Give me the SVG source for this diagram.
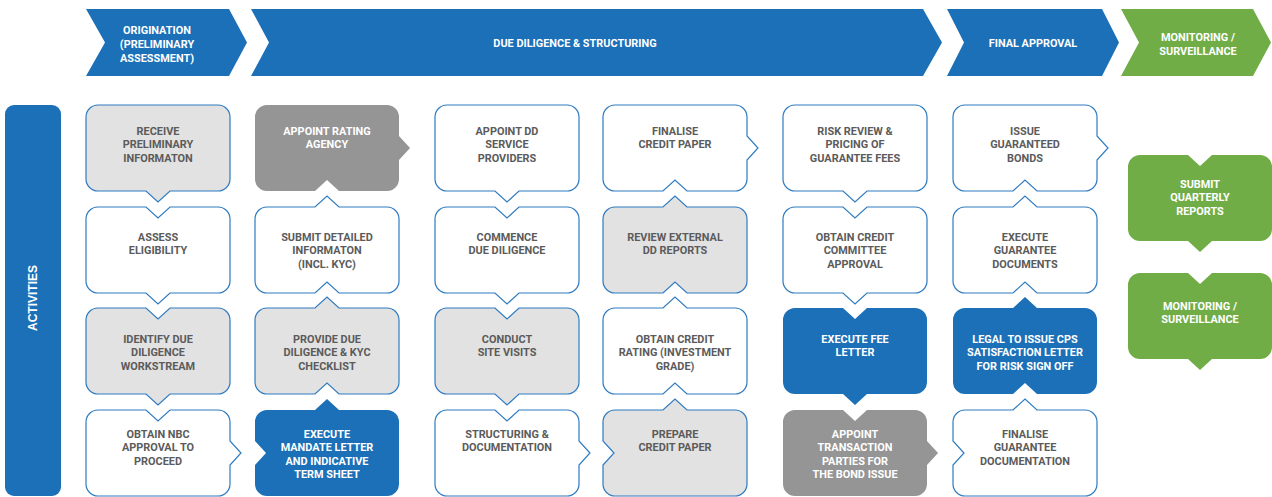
<svg xmlns="http://www.w3.org/2000/svg" width="1272" height="497" viewBox="0 0 1272 497">
<style>
.w{fill:#ffffff;stroke:#2e7bc0;stroke-width:1.2}
.l{fill:#e2e2e2;stroke:#2e7bc0;stroke-width:1.2}
.d{fill:#959595}
.b{fill:#1b70b8}
.g{fill:#71ad47}
text{font-family:Roboto,"Liberation Sans",sans-serif;font-weight:700;font-size:10.9px;text-anchor:middle}
.t{fill:#5b5b5b}
.tw{fill:#ffffff}
.act{font-family:"Liberation Sans",Arial,sans-serif;font-size:12px;fill:#ffffff}
</style>
<rect width="1272" height="497" fill="#ffffff"/>
<g id="headers">
<g id="h1"><polygon class="b" points="86,9 229,9 247,42.5 229,76 86,76 105,42.5"/><text class="tw" x="157" y="33.5">ORIGINATION</text><text class="tw" x="157" y="47.5">(PRELIMINARY</text><text class="tw" x="157" y="61.5">ASSESSMENT)</text></g>
<g id="h2"><polygon class="b" points="251,9 923,9 942,42.5 923,76 251,76 269,42.5"/><text class="tw" x="575" y="46.5">DUE DILIGENCE &amp; STRUCTURING</text></g>
<g id="h3"><polygon class="b" points="947,9 1102,9 1119,42.5 1102,76 947,76 964,42.5"/><text class="tw" x="1033" y="46.5">FINAL APPROVAL</text></g>
<g id="h4"><polygon class="g" points="1121,9 1253,9 1271,42.5 1253,76 1121,76 1139,42.5"/><text class="tw" x="1198" y="40.5">MONITORING /</text><text class="tw" x="1198" y="54.5">SURVEILLANCE</text></g>
</g>
<g id="activities"><rect class="b" x="5" y="105" width="56" height="391" rx="9"/><text class="act" transform="translate(37,298) rotate(-90)">ACTIVITIES</text></g>
<g id="connectors"></g>

<!-- Column 1 -->
<g id="c1r1" transform="translate(86,105)"><path class="l" d="M12,0 L132,0 A12,12 0 0 1 144,12 L144,74 A12,12 0 0 1 132,86 L84,86 L72,97 L60,86 L12,86 A12,12 0 0 1 0,74 L0,12 A12,12 0 0 1 12,0 Z"/><text class="t" x="72" y="29.5">RECEIVE</text><text class="t" x="72" y="43">PRELIMINARY</text><text class="t" x="72" y="56.5">INFORMATON</text></g>
<g id="c1r2" transform="translate(86,207)"><path class="w" d="M12,0 L60,0 L72,11 L84,0 L132,0 A12,12 0 0 1 144,12 L144,74 A12,12 0 0 1 132,86 L84,86 L72,97 L60,86 L12,86 A12,12 0 0 1 0,74 L0,12 A12,12 0 0 1 12,0 Z"/><text class="t" x="72" y="33.5">ASSESS</text><text class="t" x="72" y="47">ELIGIBILITY</text></g>
<g id="c1r3" transform="translate(86,308)"><path class="l" d="M12,0 L60,0 L72,11 L84,0 L132,0 A12,12 0 0 1 144,12 L144,74 A12,12 0 0 1 132,86 L84,86 L72,97 L60,86 L12,86 A12,12 0 0 1 0,74 L0,12 A12,12 0 0 1 12,0 Z"/><text class="t" x="72" y="34.5">IDENTIFY DUE</text><text class="t" x="72" y="48">DILIGENCE</text><text class="t" x="72" y="61.5">WORKSTREAM</text></g>
<g id="c1r4" transform="translate(86,410)"><path class="w" d="M12,0 L60,0 L72,11 L84,0 L132,0 A12,12 0 0 1 144,12 L144,31 L155,43 L144,55 L144,74 A12,12 0 0 1 132,86 L12,86 A12,12 0 0 1 0,74 L0,12 A12,12 0 0 1 12,0 Z"/><text class="t" x="72" y="27.5">OBTAIN NBC</text><text class="t" x="72" y="41">APPROVAL TO</text><text class="t" x="72" y="54.5">PROCEED</text></g>

<!-- Column 2 -->
<g id="c2r1" transform="translate(255,105)"><path class="d" d="M12,0 L132,0 A12,12 0 0 1 144,12 L144,31 L155,43 L144,55 L144,74 A12,12 0 0 1 132,86 L84,86 L72,75 L60,86 L12,86 A12,12 0 0 1 0,74 L0,12 A12,12 0 0 1 12,0 Z"/><text class="tw" x="72" y="29.5">APPOINT RATING</text><text class="tw" x="72" y="43">AGENCY</text></g>
<g id="c2r2" transform="translate(255,207)"><path class="w" d="M12,0 L60,0 L72,-11 L84,0 L132,0 A12,12 0 0 1 144,12 L144,74 A12,12 0 0 1 132,86 L84,86 L72,75 L60,86 L12,86 A12,12 0 0 1 0,74 L0,12 A12,12 0 0 1 12,0 Z"/><text class="t" x="72" y="33.5">SUBMIT DETAILED</text><text class="t" x="72" y="47">INFORMATON</text><text class="t" x="72" y="60.5">(INCL. KYC)</text></g>
<g id="c2r3" transform="translate(255,308)"><path class="l" d="M12,0 L60,0 L72,-11 L84,0 L132,0 A12,12 0 0 1 144,12 L144,74 A12,12 0 0 1 132,86 L84,86 L72,75 L60,86 L12,86 A12,12 0 0 1 0,74 L0,12 A12,12 0 0 1 12,0 Z"/><text class="t" x="72" y="34.5">PROVIDE DUE</text><text class="t" x="72" y="48">DILIGENCE &amp; KYC</text><text class="t" x="72" y="61.5">CHECKLIST</text></g>
<g id="c2r4" transform="translate(255,410)"><path class="b" d="M12,0 L60,0 L72,-11 L84,0 L132,0 A12,12 0 0 1 144,12 L144,74 A12,12 0 0 1 132,86 L12,86 A12,12 0 0 1 0,74 L0,55 L11,43 L0,31 L0,12 A12,12 0 0 1 12,0 Z"/><text class="tw" x="72" y="27.5">EXECUTE</text><text class="tw" x="72" y="41">MANDATE LETTER</text><text class="tw" x="72" y="54.5">AND INDICATIVE</text><text class="tw" x="72" y="68">TERM SHEET</text></g>

<!-- Column 3 -->
<g id="c3r1" transform="translate(435,105)"><path class="w" d="M12,0 L132,0 A12,12 0 0 1 144,12 L144,74 A12,12 0 0 1 132,86 L84,86 L72,97 L60,86 L12,86 A12,12 0 0 1 0,74 L0,12 A12,12 0 0 1 12,0 Z"/><text class="t" x="72" y="29.5">APPOINT DD</text><text class="t" x="72" y="43">SERVICE</text><text class="t" x="72" y="56.5">PROVIDERS</text></g>
<g id="c3r2" transform="translate(435,207)"><path class="w" d="M12,0 L60,0 L72,11 L84,0 L132,0 A12,12 0 0 1 144,12 L144,74 A12,12 0 0 1 132,86 L84,86 L72,97 L60,86 L12,86 A12,12 0 0 1 0,74 L0,12 A12,12 0 0 1 12,0 Z"/><text class="t" x="72" y="33.5">COMMENCE</text><text class="t" x="72" y="47">DUE DILIGENCE</text></g>
<g id="c3r3" transform="translate(435,308)"><path class="l" d="M12,0 L60,0 L72,11 L84,0 L132,0 A12,12 0 0 1 144,12 L144,74 A12,12 0 0 1 132,86 L84,86 L72,97 L60,86 L12,86 A12,12 0 0 1 0,74 L0,12 A12,12 0 0 1 12,0 Z"/><text class="t" x="72" y="34.5">CONDUCT</text><text class="t" x="72" y="48">SITE VISITS</text></g>
<g id="c3r4" transform="translate(435,410)"><path class="w" d="M12,0 L60,0 L72,11 L84,0 L132,0 A12,12 0 0 1 144,12 L144,31 L155,43 L144,55 L144,74 A12,12 0 0 1 132,86 L12,86 A12,12 0 0 1 0,74 L0,12 A12,12 0 0 1 12,0 Z"/><text class="t" x="72" y="27.5">STRUCTURING &amp;</text><text class="t" x="72" y="41">DOCUMENTATION</text></g>

<!-- Column 4 -->
<g id="c4r1" transform="translate(603,105)"><path class="w" d="M12,0 L132,0 A12,12 0 0 1 144,12 L144,31 L155,43 L144,55 L144,74 A12,12 0 0 1 132,86 L84,86 L72,75 L60,86 L12,86 A12,12 0 0 1 0,74 L0,12 A12,12 0 0 1 12,0 Z"/><text class="t" x="72" y="29.5">FINALISE</text><text class="t" x="72" y="43">CREDIT PAPER</text></g>
<g id="c4r2" transform="translate(603,207)"><path class="l" d="M12,0 L60,0 L72,-11 L84,0 L132,0 A12,12 0 0 1 144,12 L144,74 A12,12 0 0 1 132,86 L84,86 L72,75 L60,86 L12,86 A12,12 0 0 1 0,74 L0,12 A12,12 0 0 1 12,0 Z"/><text class="t" x="72" y="33.5">REVIEW EXTERNAL</text><text class="t" x="72" y="47">DD REPORTS</text></g>
<g id="c4r3" transform="translate(603,308)"><path class="w" d="M12,0 L60,0 L72,-11 L84,0 L132,0 A12,12 0 0 1 144,12 L144,74 A12,12 0 0 1 132,86 L84,86 L72,75 L60,86 L12,86 A12,12 0 0 1 0,74 L0,12 A12,12 0 0 1 12,0 Z"/><text class="t" x="72" y="34.5">OBTAIN CREDIT</text><text class="t" x="72" y="48">RATING (INVESTMENT</text><text class="t" x="72" y="61.5">GRADE)</text></g>
<g id="c4r4" transform="translate(603,410)"><path class="l" d="M12,0 L60,0 L72,-11 L84,0 L132,0 A12,12 0 0 1 144,12 L144,74 A12,12 0 0 1 132,86 L12,86 A12,12 0 0 1 0,74 L0,55 L11,43 L0,31 L0,12 A12,12 0 0 1 12,0 Z"/><text class="t" x="72" y="27.5">PREPARE</text><text class="t" x="72" y="41">CREDIT PAPER</text></g>

<!-- Column 5 -->
<g id="c5r1" transform="translate(783,105)"><path class="w" d="M12,0 L132,0 A12,12 0 0 1 144,12 L144,74 A12,12 0 0 1 132,86 L84,86 L72,97 L60,86 L12,86 A12,12 0 0 1 0,74 L0,12 A12,12 0 0 1 12,0 Z"/><text class="t" x="72" y="29.5">RISK REVIEW &amp;</text><text class="t" x="72" y="43">PRICING OF</text><text class="t" x="72" y="56.5">GUARANTEE FEES</text></g>
<g id="c5r2" transform="translate(783,207)"><path class="w" d="M12,0 L60,0 L72,11 L84,0 L132,0 A12,12 0 0 1 144,12 L144,74 A12,12 0 0 1 132,86 L84,86 L72,97 L60,86 L12,86 A12,12 0 0 1 0,74 L0,12 A12,12 0 0 1 12,0 Z"/><text class="t" x="72" y="33.5">OBTAIN CREDIT</text><text class="t" x="72" y="47">COMMITTEE</text><text class="t" x="72" y="60.5">APPROVAL</text></g>
<g id="c5r3" transform="translate(783,308)"><path class="b" d="M12,0 L60,0 L72,11 L84,0 L132,0 A12,12 0 0 1 144,12 L144,74 A12,12 0 0 1 132,86 L84,86 L72,97 L60,86 L12,86 A12,12 0 0 1 0,74 L0,12 A12,12 0 0 1 12,0 Z"/><text class="tw" x="72" y="34.5">EXECUTE FEE</text><text class="tw" x="72" y="48">LETTER</text></g>
<g id="c5r4" transform="translate(783,410)"><path class="d" d="M12,0 L60,0 L72,11 L84,0 L132,0 A12,12 0 0 1 144,12 L144,31 L155,43 L144,55 L144,74 A12,12 0 0 1 132,86 L12,86 A12,12 0 0 1 0,74 L0,12 A12,12 0 0 1 12,0 Z"/><text class="tw" x="72" y="27.5">APPOINT</text><text class="tw" x="72" y="41">TRANSACTION</text><text class="tw" x="72" y="54.5">PARTIES FOR</text><text class="tw" x="72" y="68">THE BOND ISSUE</text></g>

<!-- Column 6 -->
<g id="c6r1" transform="translate(953,105)"><path class="w" d="M12,0 L132,0 A12,12 0 0 1 144,12 L144,31 L155,43 L144,55 L144,74 A12,12 0 0 1 132,86 L84,86 L72,75 L60,86 L12,86 A12,12 0 0 1 0,74 L0,12 A12,12 0 0 1 12,0 Z"/><text class="t" x="72" y="29.5">ISSUE</text><text class="t" x="72" y="43">GUARANTEED</text><text class="t" x="72" y="56.5">BONDS</text></g>
<g id="c6r2" transform="translate(953,207)"><path class="w" d="M12,0 L60,0 L72,-11 L84,0 L132,0 A12,12 0 0 1 144,12 L144,74 A12,12 0 0 1 132,86 L84,86 L72,75 L60,86 L12,86 A12,12 0 0 1 0,74 L0,12 A12,12 0 0 1 12,0 Z"/><text class="t" x="72" y="33.5">EXECUTE</text><text class="t" x="72" y="47">GUARANTEE</text><text class="t" x="72" y="60.5">DOCUMENTS</text></g>
<g id="c6r3" transform="translate(953,308)"><path class="b" d="M12,0 L60,0 L72,-11 L84,0 L132,0 A12,12 0 0 1 144,12 L144,74 A12,12 0 0 1 132,86 L84,86 L72,75 L60,86 L12,86 A12,12 0 0 1 0,74 L0,12 A12,12 0 0 1 12,0 Z"/><text class="tw" x="72" y="34.5">LEGAL TO ISSUE CPS</text><text class="tw" x="72" y="48">SATISFACTION LETTER</text><text class="tw" x="72" y="61.5">FOR RISK SIGN OFF</text></g>
<g id="c6r4" transform="translate(953,410)"><path class="w" d="M12,0 L60,0 L72,-11 L84,0 L132,0 A12,12 0 0 1 144,12 L144,74 A12,12 0 0 1 132,86 L12,86 A12,12 0 0 1 0,74 L0,55 L11,43 L0,31 L0,12 A12,12 0 0 1 12,0 Z"/><text class="t" x="72" y="27.5">FINALISE</text><text class="t" x="72" y="41">GUARANTEE</text><text class="t" x="72" y="54.5">DOCUMENTATION</text></g>

<!-- Monitoring column -->
<g id="g1" transform="translate(1128,155)"><path class="g" d="M12,0 L60,0 L72,11 L84,0 L132,0 A12,12 0 0 1 144,12 L144,74 A12,12 0 0 1 132,86 L84,86 L72,97 L60,86 L12,86 A12,12 0 0 1 0,74 L0,12 A12,12 0 0 1 12,0 Z"/><text class="tw" x="72" y="32.5">SUBMIT</text><text class="tw" x="72" y="46">QUARTERLY</text><text class="tw" x="72" y="59.5">REPORTS</text></g>
<g id="g2" transform="translate(1128,273)"><path class="g" d="M12,0 L60,0 L72,11 L84,0 L132,0 A12,12 0 0 1 144,12 L144,74 A12,12 0 0 1 132,86 L84,86 L72,97 L60,86 L12,86 A12,12 0 0 1 0,74 L0,12 A12,12 0 0 1 12,0 Z"/><text class="tw" x="72" y="36.5">MONITORING /</text><text class="tw" x="72" y="50">SURVEILLANCE</text></g>
</svg>
